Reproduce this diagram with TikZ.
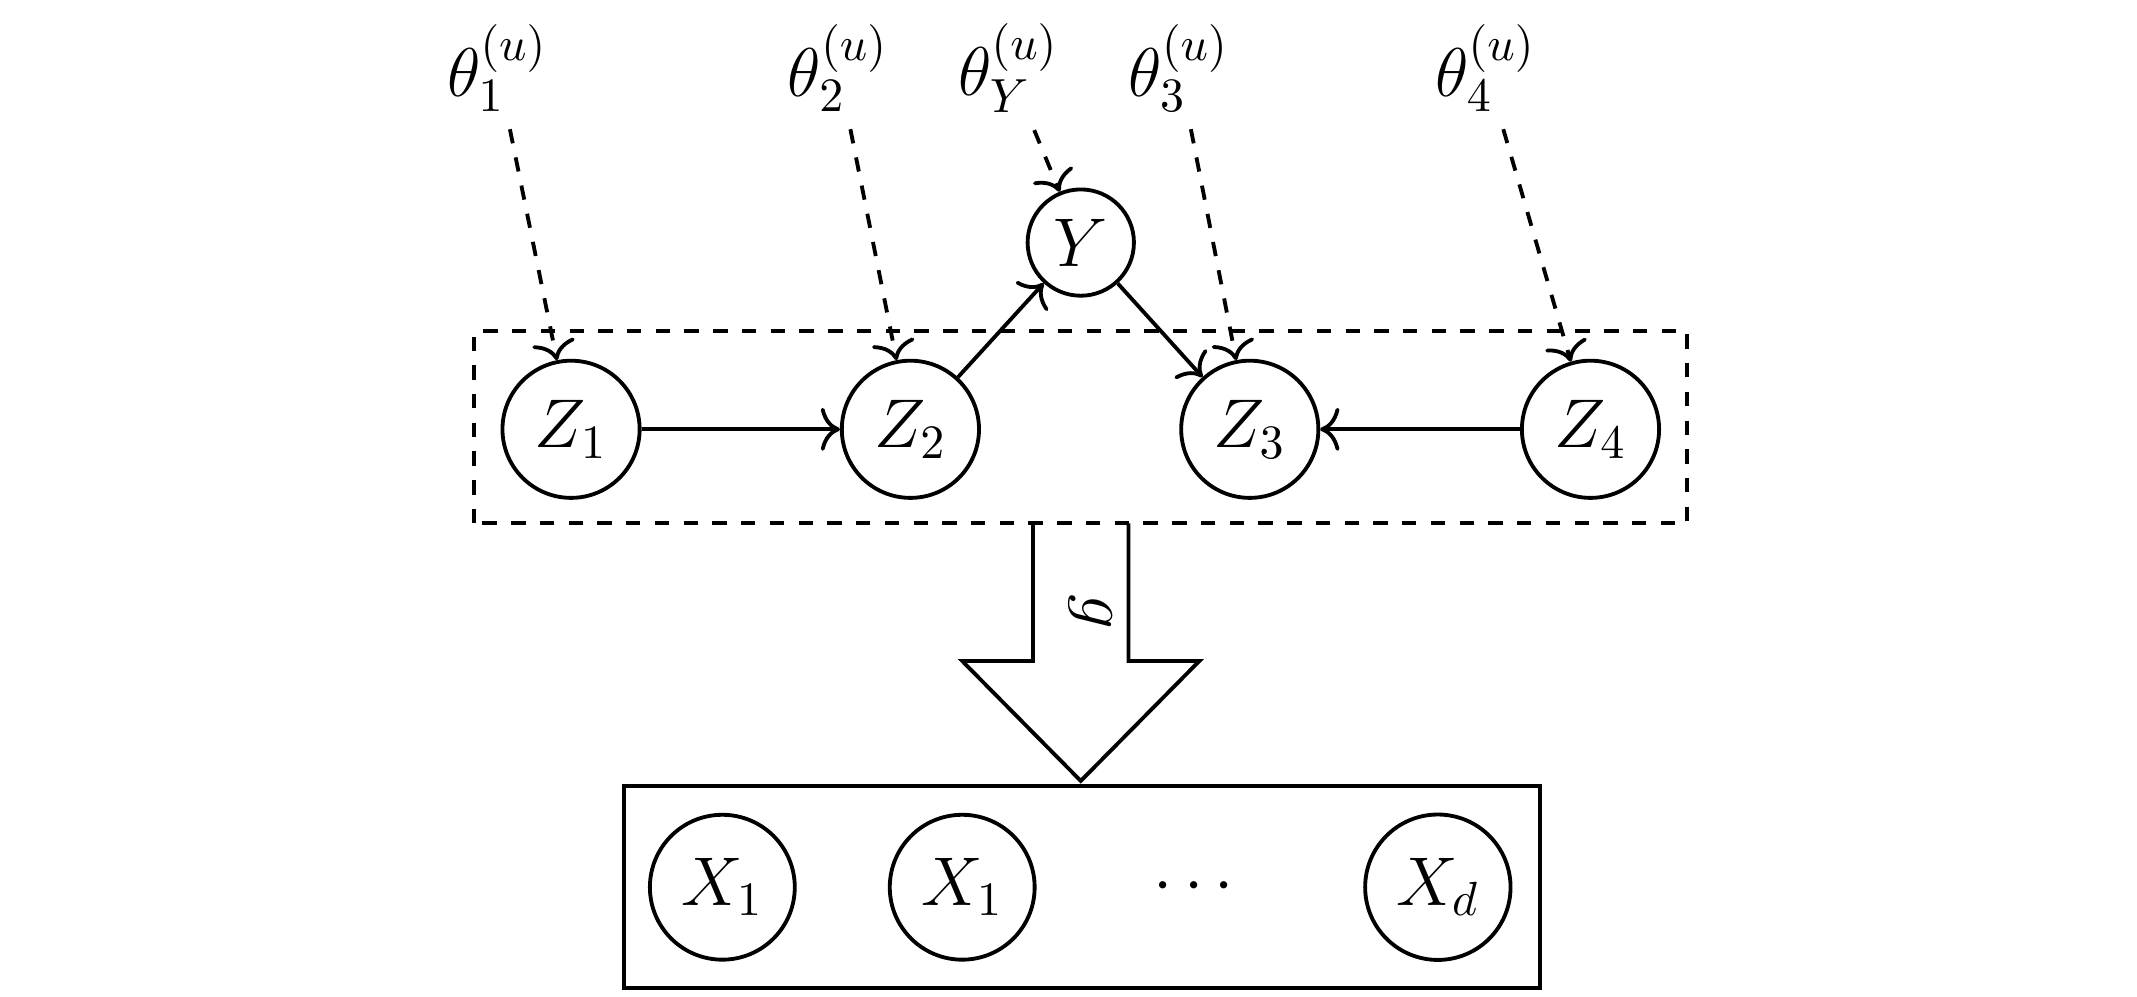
\documentclass[tikz,border=0pt]{standalone}
\usetikzlibrary{arrows.meta}
\begin{document}
\begin{tikzpicture}[thick, >={To[length=4pt,width=9pt]}, every node/.style={font=\Large}]
        \useasboundingbox (0,0) rectangle (15.68,7.31);
        % Latent variables
        \node[draw, circle, minimum size=0.98cm] (z1) at (4.19, 4.16) {$Z_1$};
        \node[draw, circle, minimum size=0.98cm] (z2) at (6.68, 4.16) {$Z_2$};
        \node[draw, circle, minimum size=0.98cm] (z3) at (9.17, 4.16) {$Z_3$};
        \node[draw, circle, minimum size=0.98cm] (z4) at (11.67, 4.16) {$Z_4$};
        \node[draw, circle, minimum size=0.78cm, inner sep=1pt] (y) at (7.93, 5.53) {$Y$};
        
        % Noise
        \node (t1) at (3.65, 6.81) {$\theta_1^{(u)}$};
        \node (t2) at (6.15, 6.81) {$\theta_2^{(u)}$};
        \node (ty) at (7.40, 6.81) {$\theta_Y^{(u)}$};
        \node (t3) at (8.65, 6.81) {$\theta_3^{(u)}$};
        \node (t4) at (10.90, 6.81) {$\theta_4^{(u)}$};
        
        % Boxes
        \draw[dashed] (3.48, 3.47) rectangle (12.38, 4.88);
        \draw (4.58, 0.06) rectangle (11.30, 1.54);
        
        % Observed variables
        \node[draw, circle, minimum size=1.04cm] (x1) at (5.30, 0.80) {$X_1$};
        \node[draw, circle, minimum size=1.04cm] (x2) at (7.06, 0.80) {$X_1$};
        \node (dots) at (8.76, 0.80) {$\cdots$};
        \node[draw, circle, minimum size=1.04cm] (xd) at (10.55, 0.80) {$X_d$};
        
        % Mixing
        \draw (7.58, 3.47) -- (7.58, 2.46) -- (7.06, 2.46) -- (7.93, 1.58) -- (8.80, 2.46) -- (8.28, 2.46) -- (8.28, 3.47);
        \node[rotate=-90] (g) at (8.00, 2.82) {$g$};
        
        % Connections
        \draw[->] (z1) -- (z2);
        \draw[->] (z4) -- (z3);
        \draw[->] (z2) -- (y);
        \draw[->] (y) -- (z3);
        \draw[->, dashed] (t1) -- (z1);
        \draw[->, dashed] (t2) -- (z2);
        \draw[->, dashed] (ty) -- (y);
        \draw[->, dashed] (t3) -- (z3);
        \draw[->, dashed] (t4) -- (z4);
    \end{tikzpicture}
\end{document}
